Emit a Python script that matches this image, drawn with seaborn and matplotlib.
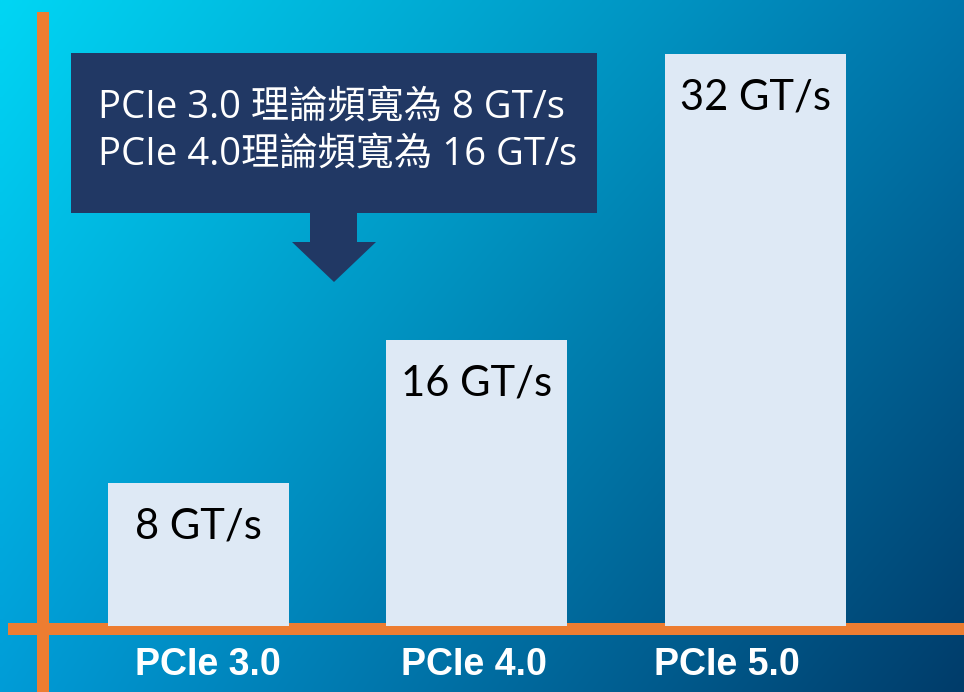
import numpy as np
import matplotlib

matplotlib.use('Agg')

import matplotlib.pyplot as plt
import seaborn as sns
from matplotlib.lines import Line2D
from matplotlib.patches import Polygon
from matplotlib.transforms import ScaledTranslation

# data
generations = ['PCIe 3.0', 'PCIe 4.0', 'PCIe 5.0']
bandwidth = [8, 16, 32]
bar_labels = ['8 GT/s', '16 GT/s', '32 GT/s']
callout_lines = ['PCIe 3.0 理論頻寬為 8 GT/s', 'PCIe 4.0理論頻寬為 16 GT/s']

W, H = 964, 692
orange = '#ed7d31'
navy = '#213864'
bar_color = '#dee9f5'

sns.set_theme(style='white')
plt.rcParams['font.family'] = ['Noto Sans CJK TC', 'DejaVu Sans']


def fx(px):
    return px / W


def fy(py):
    return 1 - py / H


fig = plt.figure(figsize=(W / 100, H / 100), dpi=100)

# gradient background
bg = fig.add_axes([0, 0, 1, 1], zorder=-2)
tl = np.array([0, 214, 244]) / 255
tr = np.array([0, 118, 172]) / 255
bl = np.array([0, 156, 215]) / 255
br = np.array([0, 60, 106]) / 255
u = np.linspace(0, 1, 200)[None, :, None]
v = np.linspace(0, 1, 200)[:, None, None]
grad = (1 - v) * ((1 - u) * tl + u * tr) + v * ((1 - u) * bl + u * br)
bg.imshow(grad, aspect='auto', extent=[0, 1, 0, 1], interpolation='bilinear')
bg.set_axis_off()

# orange axis lines
fig.add_artist(Line2D([fx(43), fx(43)], [fy(12), fy(692)], color=orange,
                      lw=12 * 0.72, solid_capstyle='butt', zorder=-1))
fig.add_artist(Line2D([fx(8), fx(964)], [fy(629), fy(629)], color=orange,
                      lw=12 * 0.72, solid_capstyle='butt', zorder=-1))

# bars
ax = fig.add_axes([fx(43), fy(626), fx(964 - 43), 626 / H], zorder=0)
ax.patch.set_alpha(0)
sns.barplot(x=generations, y=bandwidth, color=bar_color, saturation=1,
            width=0.65, edgecolor='none', linewidth=0, ax=ax)
ax.set_xlim(-0.557, 2.75)
ax.set_ylim(0, 626 / 17.86)
sns.despine(ax=ax, left=True, bottom=True)
ax.set_yticks([])
ax.set_xlabel('')
ax.set_ylabel('')
ax.tick_params(axis='x', length=0, pad=15)
label_shift = [10, -3, -28]
for lab, dx in zip(ax.get_xticklabels(), label_shift):
    lab.set_fontfamily('Liberation Sans')
    lab.set_fontweight('bold')
    lab.set_fontsize(27)
    lab.set_color('white')
    lab.set_transform(lab.get_transform() + ScaledTranslation(dx / 100, 0, fig.dpi_scale_trans))

for i, (val, txt) in enumerate(zip(bandwidth, bar_labels)):
    ax.annotate(txt, (i, val), xytext=(0, -31), textcoords='offset points',
                ha='center', va='center', fontsize=30, color='black',
                family=['Lato', 'DejaVu Sans'])

# callout box with arrow
shape = [(71, 53), (597, 53), (597, 213), (357, 213), (357, 242), (376, 242),
         (334, 282), (292, 242), (310, 242), (310, 213), (71, 213)]
fig.add_artist(Polygon([(fx(x), fy(y)) for x, y in shape], closed=True,
                       facecolor=navy, edgecolor='none', zorder=3))
for k, line in enumerate(callout_lines):
    fig.text(fx(98), fy(108 + 47 * k), line, ha='left', va='center',
             fontsize=27.5, color='white',
             family=['Open Sans', 'Noto Sans CJK TC', 'DejaVu Sans'], zorder=4)

fig.savefig('out.png', dpi=100)
